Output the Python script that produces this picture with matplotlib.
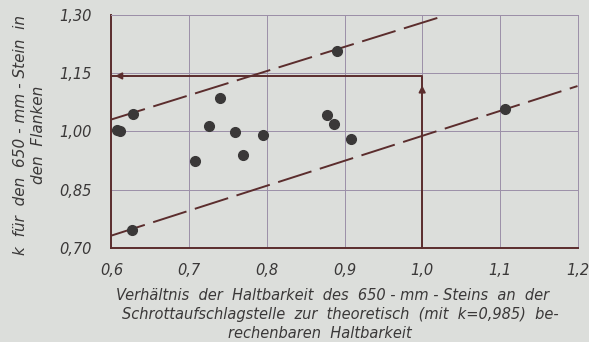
import numpy as np
import matplotlib
matplotlib.use("Agg")
import matplotlib.pyplot as plt

# Messpunkte: Haltbarkeitsverhältnis und k-Wert
ratio = [0.607, 0.611, 0.628, 0.708, 0.726, 0.740, 0.759, 0.769, 0.795,
         0.877, 0.886, 0.890, 0.909, 1.107, 0.626]
k_val = [1.004, 1.001, 1.045, 0.924, 1.014, 1.087, 0.998, 0.939, 0.992,
         1.043, 1.019, 1.208, 0.980, 1.059, 0.746]

# Streubandgrenzen (gestrichelt)
upper_x = [0.60, 1.027]
upper_y = [1.031, 1.297]
lower_x = [0.60, 1.20]
lower_y = [0.732, 1.117]

# Ablesebeispiel
read_x = [0.60, 1.00, 1.00]
read_y = [1.143, 1.143, 0.70]

xticks = [0.6, 0.7, 0.8, 0.9, 1.0, 1.1, 1.2]
xlabels = ["0,6", "0,7", "0,8", "0,9", "1,0", "1,1", "1,2"]
yticks = [0.70, 0.85, 1.00, 1.15, 1.30]
ylabels = ["0,70", "0,85", "1,00", "1,15", "1,30"]

bg = "#dcdedb"
ink = "#3a3838"
line_c = "#5b2d2d"
grid_c = "#9c8fa8"

plt.rcParams["font.family"] = "DejaVu Sans"
plt.rcParams["font.style"] = "oblique"

fig = plt.figure(figsize=(5.89, 3.42), dpi=100, facecolor=bg)
ax = fig.add_axes([0.1893, 0.2749, 0.7912, 0.6813], facecolor=bg)
ax.set_xlim(0.6, 1.2)
ax.set_ylim(0.70, 1.30)

ax.set_xticks(xticks)
ax.set_xticklabels(xlabels)
ax.set_yticks(yticks)
ax.set_yticklabels(ylabels)
ax.tick_params(length=0, labelsize=10.5, colors=ink)
ax.tick_params(axis="y", pad=14)
ax.tick_params(axis="x", pad=11)
ax.grid(True, color=grid_c, lw=0.7)
ax.set_axisbelow(True)

for side in ["top", "right"]:
    ax.spines[side].set_color(grid_c)
    ax.spines[side].set_linewidth(0.7)
for side in ["left", "bottom"]:
    ax.spines[side].set_color(line_c)
    ax.spines[side].set_linewidth(1.4)

up, = ax.plot(upper_x, upper_y, color=line_c, lw=1.4)
lo, = ax.plot(lower_x, lower_y, color=line_c, lw=1.4)
for ln in (up, lo):
    ln.set_dashes([18, 4.5])

ax.plot(read_x, read_y, color=line_c, lw=1.4, clip_on=False)
ax.annotate("", xy=(0.601, read_y[0]), xytext=(0.625, read_y[0]),
            arrowprops=dict(arrowstyle="-|>", color=line_c, lw=1.2,
                            mutation_scale=10))
ax.annotate("", xy=(1.0, 1.126), xytext=(1.0, 1.09),
            arrowprops=dict(arrowstyle="-|>", color=line_c, lw=1.2,
                            mutation_scale=10))

ax.plot(ratio, k_val, "o", color=ink, ms=7, mec=ink, clip_on=False, zorder=5)

fig.text(0.05, 1 - 135 / 342, "k  für  den  650 - mm - Stein  in\nden  Flanken",
         rotation=90, ha="center", va="center", multialignment="center",
         fontsize=11, color=ink, linespacing=1.25)

xlab = ["Verhältnis  der  Haltbarkeit  des  650 - mm - Steins  an  der",
        "Schrottaufschlagstelle  zur  theoretisch  (mit  k=0,985)  be-",
        "rechenbaren  Haltbarkeit"]
xlab_cx = [333, 340, 320]
xlab_y = [295, 314, 333]
for t, cx, y in zip(xlab, xlab_cx, xlab_y):
    fig.text(cx / 589, 1 - y / 342, t, ha="center", va="center",
             fontsize=10.5, color=ink)

fig.savefig("out.png", dpi=100, facecolor=bg)
